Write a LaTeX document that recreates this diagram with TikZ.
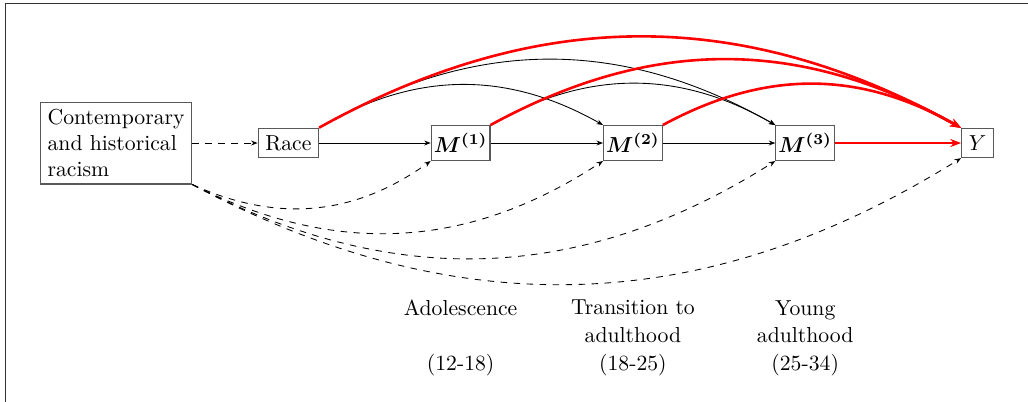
\documentclass[tikz,border=0pt]{standalone}
\usepackage{amsmath}
\usetikzlibrary{positioning,arrows.meta}

\begin{document}
\begin{tikzpicture}[node distance=2.79cm, on grid,
      box/.style={draw=black!65, line width=0.5pt, inner sep=3.3pt},
      mbox/.style={box, inner xsep=1.2pt, inner ysep=3.6pt},
      per/.style={align=center, font=\fontsize{10}{12.8}\selectfont},
      f/.style={-{Stealth[length=3pt]}, line width=0.4pt},
      dsh/.style={f, dashed},
      rd/.style={-{Stealth[length=5pt]}, line width=1.2pt, red}]
    \node[box, align=left] (rac) {Contemporary\\ and historical\\ racism};
    \node[box, right=of rac] (race) {Race};
    \node[mbox, right=of race] (m1) {$\boldsymbol{M^{(1)}}$};
    \node[mbox, right=of m1] (m2) {$\boldsymbol{M^{(2)}}$};
    \node[mbox, right=of m2] (m3) {$\boldsymbol{M^{(3)}}$};
    \node[box, right=of m3] (y) {$Y$};

    \node[per, below=3.16cm of m1] (t1) {Adolescence\\ \strut\\ (12-18)};
    \node[per, below=3.16cm of m2] (t2) {Transition to\\ adulthood\\ (18-25)};
    \node[per, below=3.16cm of m3] (t3) {Young\\ adulthood\\ (25-34)};

    % frame and page size
    \path[use as bounding box] ([shift={(-53.5pt,-119.3pt)}]rac.center) rectangle +(473.7pt,185.2pt);
    \draw[black!80, line width=0.7pt] ([shift={(-50.9pt,-119.3pt)}]rac.center) |- ([shift={(420.2pt,64.3pt)}]rac.center);

    % racism paths
    \draw[dsh] (rac) -- (race);
    \draw[dsh] (rac.south east) to[bend right=30] (m1.south west);
    \draw[dsh] (rac.south east) to[bend right=30] (m2.south west);
    \draw[dsh] (rac.south east) to[bend right=30] (m3.south west);
    \draw[dsh] (rac.south east) to[bend right=30] (y.south west);

    % chain
    \draw[f] (race) -- (m1);
    \draw[f] (m1) -- (m2);
    \draw[f] (m2) -- (m3);
    \draw[f] (race.north east) to[bend left=30] (m2.north west);
    \draw[f] (race.north east) to[bend left=30] (m3.north west);
    \draw[f] (m1.north east) to[bend left=30] (m3.north west);

    % effects on Y
    \draw[rd] (race.north east) to[bend left=29] (y.north west);
    \draw[rd] (m1.north east) to[bend left=29] (y.north west);
    \draw[rd] (m2.north east) to[bend left=29] (y.north west);
    \draw[rd] (m3) -- (y);
  \end{tikzpicture}
\end{document}
